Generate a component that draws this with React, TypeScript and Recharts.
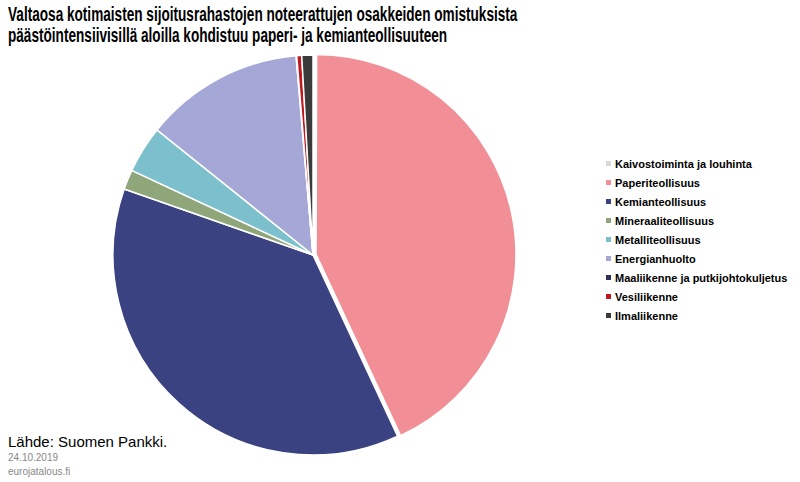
import React from 'react';
import { PieChart, Pie, Cell, Legend } from 'recharts';

const sectors = [
  'Kaivostoiminta ja louhinta',
  'Paperiteollisuus',
  'Kemianteollisuus',
  'Mineraaliteollisuus',
  'Metalliteollisuus',
  'Energianhuolto',
  'Maaliikenne ja putkijohtokuljetus',
  'Vesiliikenne',
  'Ilmaliikenne',
];
const shares = [0.05, 43.0, 37.3, 1.6, 3.8, 12.9, 0.05, 0.4, 0.9];
const colors = ['#D9D9D9', '#F28E95', '#3B4282', '#8FA67A', '#7BC0CC', '#A5A8D6', '#2E2F5B', '#C0171E', '#3A3A3A'];

const data = sectors.map((name, i) => ({ name, value: shares[i] }));
const EXPLODED = 'Paperiteollisuus';

const LegendList = () => (
  <div style={{ fontFamily: 'Liberation Sans, Arial, sans-serif', fontSize: 11, fontWeight: 'bold', color: '#000' }}>
    {sectors.map((s, i) => (
      <div key={s} style={{ display: 'flex', alignItems: 'center', height: 19 }}>
        <span style={{ width: 5, height: 5, background: colors[i], marginRight: 4, display: 'inline-block' }} />
        {s}
      </div>
    ))}
  </div>
);

const App = () => (
  <div style={{ position: 'absolute', left: 0, top: 0, width: 800, height: 482, background: '#fff', fontFamily: 'Liberation Sans, Arial, sans-serif' }}>
    <div style={{ position: 'absolute', left: 8, top: 4, fontSize: 20, fontWeight: 'bold', lineHeight: '21px', color: '#000', whiteSpace: 'nowrap', transform: 'scaleX(0.68)', transformOrigin: 'left' }}>
      <div>Valtaosa kotimaisten sijoitusrahastojen noteerattujen osakkeiden omistuksista</div>
      <div>päästöintensiivisillä aloilla kohdistuu paperi- ja kemianteollisuuteen</div>
    </div>
    <PieChart width={800} height={482} style={{ position: 'absolute', left: 0, top: 0 }}>
      <Pie
        data={data}
        dataKey="value"
        nameKey="name"
        cx={308}
        cy={250}
        outerRadius={200}
        startAngle={90}
        endAngle={-270}
        stroke="#fff"
        strokeWidth={1.5}
        isAnimationActive={false}
      >
        {data.map((d, i) => (
          <Cell key={d.name} fill={d.name === EXPLODED ? 'none' : colors[i]} stroke={d.name === EXPLODED ? 'none' : '#fff'} />
        ))}
      </Pie>
      <Pie
        data={data}
        dataKey="value"
        nameKey="name"
        cx={311}
        cy={249.4}
        outerRadius={200}
        startAngle={90}
        endAngle={-270}
        stroke="#fff"
        strokeWidth={1.5}
        isAnimationActive={false}
      >
        {data.map((d, i) => (
          <Cell key={d.name} fill={d.name === EXPLODED ? colors[i] : 'none'} stroke={d.name === EXPLODED ? '#fff' : 'none'} />
        ))}
      </Pie>
      <Legend layout="vertical" align="right" verticalAlign="top" wrapperStyle={{ left: 606, top: 154, width: 190 }} content={() => <LegendList />} />
    </PieChart>
    <div style={{ position: 'absolute', left: 8, top: 433, fontSize: 15, color: '#000' }}>Lähde: Suomen Pankki.</div>
    <div style={{ position: 'absolute', left: 8, top: 451, fontSize: 10, color: '#888', lineHeight: '14px' }}>
      24.10.2019
      <br />
      eurojatalous.fi
    </div>
  </div>
);

export default App;
